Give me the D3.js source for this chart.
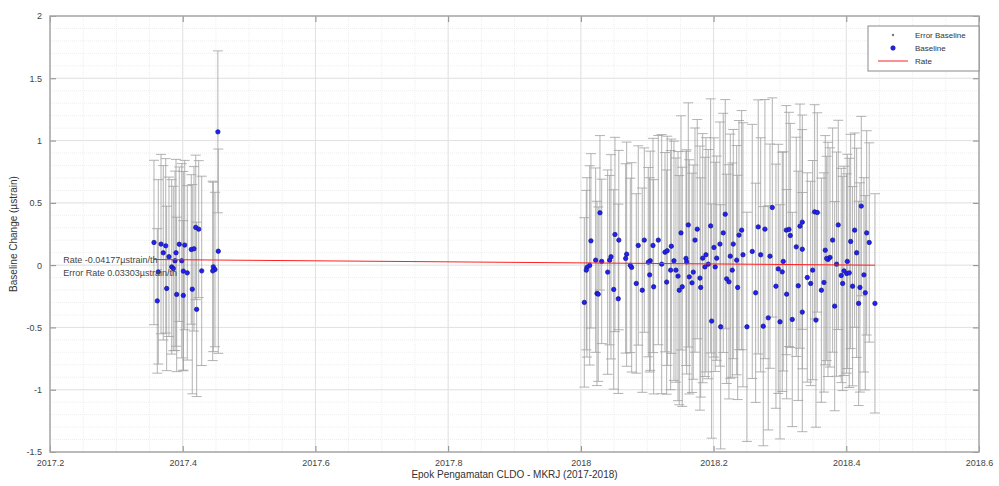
<!DOCTYPE html>
<html><head><meta charset="utf-8">
<script src="https://cdn.jsdelivr.net/npm/d3@7"></script>
<style>
html,body{margin:0;padding:0;background:#fff;}
svg{display:block;font-family:"Liberation Sans",Arial,Helvetica,sans-serif;}
</style></head>
<body>
<svg id="chart" width="999" height="486"></svg>
<script>
// ---------- DATA ----------
const epochs = [
 // 2017 campaign
 2017.3567,2017.3673,2017.3744,2017.3948,2017.4030,2017.4196,2017.4241,2017.3899,2017.3707,2017.3793,
 2017.4129,2017.4170,2017.4536,2017.3884,2017.3985,2017.3834,2017.3858,2017.3632,2017.4009,2017.4069,
 2017.4286,2017.4461,2017.4486,2017.4452,2017.3758,2017.3909,2017.4009,2017.4144,2017.3617,2017.4210,2017.4530,
 // 2018 campaign
 2018.0288,2018.0514,2018.0572,2018.0152,2018.0865,2018.0956,2018.1087,2018.0690,2018.0675,2018.0454,
 2018.0434,2018.0223,2018.0314,2018.0133,2018.0092,2018.0082,2018.1046,2018.1016,2018.0766,2018.0745,
 2018.0404,2018.1037,2018.0835,2018.1097,2018.0495,2018.0243,2018.0262,2018.0925,2018.0564,2018.0052,
 2018.2176,2018.1619,2018.1956,2018.1754,2018.1509,2018.2146,2018.1167,2018.1720,2018.1363,2018.1268,
 2018.1302,2018.2096,2018.2006,2018.1885,2018.1836,2018.1584,2018.1594,2018.1403,2018.2047,2018.1218,
 2018.1920,2018.1870,2018.2025,2018.1353,2018.1433,2018.1694,2018.1464,2018.1634,2018.1675,2018.1795,
 2018.2197,2018.1293,2018.1528,2018.1483,2018.1806,2018.1971,2018.2107,
 2018.2885,2018.2673,2018.2774,2018.2423,2018.2383,2018.3096,2018.3136,2018.3156,2018.3337,2018.3302,
 2018.2297,2018.3246,2018.3337,2018.2583,2018.2710,2018.2443,2018.2850,2018.2252,2018.2348,2018.3050,
 2018.2975,2018.3035,2018.2282,2018.2232,2018.2363,2018.2940,2018.3276,2018.2634,2018.3101,2018.3337,
 2018.2824,2018.3001,2018.3186,2018.2503,2018.2749,
 2018.4226,2018.3523,2018.3563,2018.3879,2018.4126,2018.4307,2018.3794,2018.4066,2018.4346,2018.3683,
 2018.4156,2018.3754,2018.3724,2018.3704,2018.4015,2018.3854,2018.3493,2018.3965,2018.4006,2018.4045,
 2018.3924,2018.4266,2018.3412,2018.3664,2018.3463,2018.3945,2018.4095,2018.4206,2018.4286,2018.3625,
 2018.4186,2018.4432,2018.3825,2018.3543
];
const baseline = [
 0.182,0.169,0.155,0.168,0.161,0.303,0.289,0.099,0.099,0.067,
 0.126,0.131,0.112,0.035,0.035,-0.014,-0.027,-0.054,-0.048,-0.062,
 -0.046,-0.014,-0.035,-0.046,-0.187,-0.235,-0.243,-0.193,-0.287,-0.355,1.07,
 0.420,0.246,0.201,0.195,0.158,0.201,0.158,0.088,0.054,0.067,
 0.040,0.040,0.030,-0.002,-0.018,-0.040,0.035,0.024,-0.018,-0.002,
 -0.056,-0.078,-0.147,-0.174,-0.195,-0.227,-0.233,-0.201,-0.270,-0.299,
 0.409,0.323,0.315,0.289,0.259,0.259,0.201,0.201,0.152,0.104,
 0.115,0.169,0.142,0.083,0.056,0.054,0.026,0.035,0.056,0.008,
 0.008,-0.014,-0.014,-0.040,-0.040,-0.056,-0.088,-0.094,-0.142,-0.104,
 -0.110,-0.136,-0.174,-0.201,-0.179,-0.449,-0.495,
 0.463,0.307,0.289,0.281,0.241,0.281,0.287,0.238,0.345,0.313,
 0.169,0.147,0.128,0.110,0.083,0.083,0.072,0.072,0.040,0.030,
 -0.030,-0.054,-0.040,-0.134,-0.179,-0.169,-0.166,-0.222,-0.233,-0.377,
 -0.423,-0.455,-0.436,-0.495,-0.490,
 0.474,0.428,0.423,0.323,0.281,0.259,0.201,0.190,0.182,0.120,
 0.099,0.062,0.046,0.054,0.030,0.008,-0.040,-0.046,-0.067,-0.062,
 -0.083,-0.078,-0.099,-0.139,-0.147,-0.147,-0.169,-0.179,-0.222,-0.201,
 -0.307,-0.307,-0.329,-0.441
];
const errorBaseline = [
 0.66,0.72,0.70,0.62,0.68,0.58,0.55,0.75,0.70,0.64,
 0.60,0.66,0.82,0.72,0.78,0.70,0.66,0.74,0.80,0.70,
 0.76,0.68,0.62,0.72,0.66,0.62,0.60,0.84,0.58,0.70,0.65,
 0.62,0.78,0.72,0.70,0.80,0.74,0.86,0.90,0.76,0.82,
 0.68,0.74,0.66,0.80,0.72,0.64,0.88,0.76,0.84,0.70,
 0.82,0.78,0.72,0.86,0.80,0.74,0.70,0.82,0.76,0.68,
 0.92,0.98,1.02,0.88,0.94,0.96,0.84,0.90,0.86,0.80,
 0.92,0.98,0.88,0.94,1.00,0.86,0.90,0.96,0.82,1.04,
 0.92,0.88,0.84,0.96,0.90,0.86,1.00,0.94,0.88,1.06,
 0.84,0.90,0.96,0.92,0.88,0.94,0.98,
 0.88,1.02,1.04,0.96,0.92,1.00,0.94,0.90,0.86,0.98,
 0.92,0.88,0.96,1.02,0.94,1.06,0.90,0.98,0.92,0.88,
 1.00,0.96,0.86,0.94,0.90,0.98,0.92,0.88,0.84,0.96,
 0.90,0.94,0.86,0.92,0.96,
 0.72,0.86,0.80,0.84,0.78,0.82,0.90,0.86,0.80,0.92,
 0.84,0.88,0.94,0.82,0.86,0.90,0.88,0.84,0.80,0.92,
 0.86,0.78,0.84,0.88,0.82,0.86,0.80,0.84,0.78,0.90,
 0.82,0.88,0.84,0.86
];
const rateValue = -0.04177;       // µstrain per year
const errorRateValue = 0.03303;
const rateIntercept = 0.045;      // value of the rate line at the first epoch
const xTicks = [2017.2,2017.4,2017.6,2017.8,2018,2018.2,2018.4,2018.6];
const yTicks = [-1.5,-1,-0.5,0,0.5,1,1.5,2];
const legendLabels = ["Error Baseline","Baseline","Rate"];
const xTitle = "Epok Pengamatan CLDO - MKRJ (2017-2018)";
const yTitle = "Baseline Change (µstrain)";
const rateText = "Rate -0.04177µstrain/th";
const errRateText = "Error Rate 0.03303µstrain/th";

// ---------- CHART ----------
const svg = d3.select("#chart");
const L = 50, R = 979, T = 16, B = 452;
const x = d3.scaleLinear().domain([2017.2, 2018.6]).range([L, R]);
const y = d3.scaleLinear().domain([-1.5, 2]).range([B, T]);

svg.append("rect").attr("x", L).attr("y", T).attr("width", R - L).attr("height", B - T).attr("fill", "#fff");

// minor grid
const xMinor = d3.range(0, 29).map(i => 2017.2 + i * 0.05);
const yMinor = d3.range(0, 36).map(i => -1.5 + i * 0.1);
const g = svg.append("g");
g.selectAll(".xm").data(xMinor).join("line")
  .attr("x1", d => x(d)).attr("x2", d => x(d)).attr("y1", T).attr("y2", B)
  .attr("stroke", "#eeeeee").attr("stroke-width", 1).attr("stroke-dasharray", "1,1");
g.selectAll(".ym").data(yMinor).join("line")
  .attr("x1", L).attr("x2", R).attr("y1", d => y(d)).attr("y2", d => y(d))
  .attr("stroke", "#eeeeee").attr("stroke-width", 1).attr("stroke-dasharray", "1,1");
// major grid
g.selectAll(".xg").data(xTicks).join("line")
  .attr("x1", d => x(d)).attr("x2", d => x(d)).attr("y1", T).attr("y2", B)
  .attr("stroke", "#e2e2e2").attr("stroke-width", 1);
g.selectAll(".yg").data(yTicks).join("line")
  .attr("x1", L).attr("x2", R).attr("y1", d => y(d)).attr("y2", d => y(d))
  .attr("stroke", "#e2e2e2").attr("stroke-width", 1);

const pts = epochs.map((t, i) => ({t, v: baseline[i], e: errorBaseline[i]}));

// error bars
const eb = svg.append("g").attr("stroke", "#a0a0a0").attr("stroke-width", 0.8).attr("fill", "none");
const cap = 5;
pts.forEach(p => {
  const cx = x(p.t), y1 = y(p.v + p.e), y2 = y(p.v - p.e);
  eb.append("line").attr("x1", cx).attr("x2", cx).attr("y1", y1).attr("y2", y2);
  eb.append("line").attr("x1", cx - cap).attr("x2", cx + cap).attr("y1", y1).attr("y2", y1);
  eb.append("line").attr("x1", cx - cap).attr("x2", cx + cap).attr("y1", y2).attr("y2", y2);
});

// baseline points
svg.append("g").selectAll("circle").data(pts).join("circle")
  .attr("cx", d => x(d.t)).attr("cy", d => y(d.v)).attr("r", 2.2)
  .attr("fill", "#2020ff").attr("stroke", "#15157a").attr("stroke-width", 0.7);

// rate line
const t0 = d3.min(epochs), t1 = d3.max(epochs);
const rateLine = [t0, t1].map(t => ({t, v: rateIntercept + rateValue * (t - t0)}));
svg.append("path").datum(rateLine)
  .attr("d", d3.line().x(d => x(d.t)).y(d => y(d.v)))
  .attr("stroke", "#ff2020").attr("stroke-width", 1).attr("fill", "none");

// annotation text
svg.append("text").attr("x", x(2017.22)).attr("y", y(0.02)).attr("font-size", 9).attr("fill", "#444").text(rateText);
svg.append("text").attr("x", x(2017.22)).attr("y", y(-0.09)).attr("font-size", 9).attr("fill", "#444").text(errRateText);

// axes
const fmt = d => String(+d.toFixed(1));
const axB = svg.append("g").attr("transform", `translate(0,${B})`)
  .call(d3.axisBottom(x).tickValues(xTicks).tickFormat(fmt).tickSizeInner(-6).tickSizeOuter(0).tickPadding(8));
const axL = svg.append("g").attr("transform", `translate(${L},0)`)
  .call(d3.axisLeft(y).tickValues(yTicks).tickFormat(fmt).tickSizeInner(-6).tickSizeOuter(0).tickPadding(8));
const axT = svg.append("g").attr("transform", `translate(0,${T})`)
  .call(d3.axisTop(x).tickValues(xTicks).tickFormat("").tickSizeInner(-6).tickSizeOuter(0));
const axR = svg.append("g").attr("transform", `translate(${R},0)`)
  .call(d3.axisRight(y).tickValues(yTicks).tickFormat("").tickSizeInner(-6).tickSizeOuter(0));
[axB, axL, axT, axR].forEach(a => {
  a.select(".domain").remove();
  a.selectAll(".tick line").attr("stroke", "#8a8a8a");
  a.selectAll("text").attr("fill", "#444").attr("font-size", 9).attr("font-family", "Liberation Sans, Arial, sans-serif");
});
svg.append("rect").attr("x", L).attr("y", T).attr("width", R - L).attr("height", B - T)
  .attr("fill", "none").attr("stroke", "#a8a8a8").attr("stroke-width", 1.5);

// axis titles
svg.append("text").attr("x", (L + R) / 2).attr("y", 478).attr("text-anchor", "middle")
  .attr("font-size", 10).attr("fill", "#333").text(xTitle);
svg.append("text").attr("transform", `translate(17,${(T + B) / 2}) rotate(-90)`).attr("text-anchor", "middle")
  .attr("font-size", 10).attr("fill", "#333").text(yTitle);

// legend
const lg = svg.append("g").attr("transform", "translate(868,26)");
lg.append("rect").attr("width", 111).attr("height", 45).attr("fill", "#fff").attr("stroke", "#8a8a8a").attr("stroke-width", 1);
const rows = [9, 22, 35];
lg.append("circle").attr("cx", 25).attr("cy", rows[0]).attr("r", 1.2).attr("fill", "#777");
lg.append("circle").attr("cx", 25).attr("cy", rows[1]).attr("r", 2.2).attr("fill", "#2020ff").attr("stroke", "#15157a").attr("stroke-width", 0.7);
lg.append("line").attr("x1", 10).attr("x2", 40).attr("y1", rows[2]).attr("y2", rows[2]).attr("stroke", "#ff2020").attr("stroke-width", 1);
legendLabels.forEach((s, i) => {
  lg.append("text").attr("x", 47).attr("y", rows[i] + 3).attr("font-size", 8).attr("fill", "#333").text(s);
});
</script>
</body></html>
